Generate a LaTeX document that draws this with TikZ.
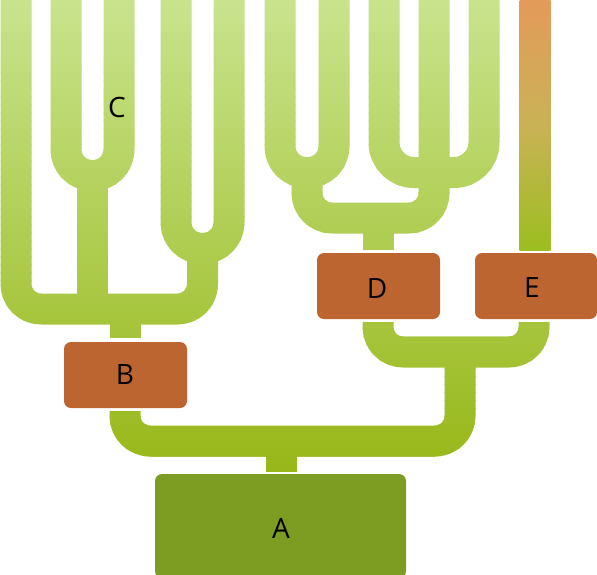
\documentclass[tikz,border=0pt]{standalone}
\usepackage{fontspec}
\setmainfont{Open Sans}
\definecolor{gtop}{HTML}{C8E38C}
\definecolor{gbot}{HTML}{98B81A}
\definecolor{boxor}{HTML}{BC6531}
\definecolor{boxgr}{HTML}{7D9D22}
\definecolor{etop}{HTML}{E49A5A}
\definecolor{emid}{HTML}{C9B256}
\definecolor{ebot}{HTML}{9CBE20}
\tikzset{
  pipe/.style={line width=31pt, line cap=butt, line join=round},
  box/.style={rounded corners=7pt, inner sep=0pt, text=black, font=\fontsize{28}{34}\selectfont},
  lbl/.style={inner sep=0pt, text=black, font=\fontsize{28}{34}\selectfont}
}
\newcommand\greenpipes[1]{%
  % left group
  \draw[pipe,#1,rounded corners=26pt] (66,0)--(66,175.5)--(119,175.5)--(119,0);
  \draw[pipe,#1,rounded corners=26pt] (176,0)--(176,248.5)--(229,248.5)--(229,0);
  \draw[pipe,#1] (92.5,175.5)--(92.5,309);
  \draw[pipe,#1,rounded corners=25pt] (16,0)--(16,309)--(202.5,309)--(202.5,248.5);
  \draw[pipe,#1] (125,309)--(125,338);
  % right group
  \draw[pipe,#1,rounded corners=26pt] (280,0)--(280,172.5)--(334,172.5)--(334,0);
  \draw[pipe,#1,rounded corners=30pt] (384,0)--(384,172.5)--(484,172.5)--(484,0);
  \draw[pipe,#1,rounded corners=25pt] (307,172.5)--(307,218)--(434,218)--(434,0);
  \draw[pipe,#1] (378,218)--(378,250);
  % lower
  \draw[pipe,#1,rounded corners=25pt] (378,322)--(378,352)--(534,352)--(534,322);
  \draw[pipe,#1,rounded corners=25pt] (125,411)--(125,441)--(460,441)--(460,352);
  \draw[pipe,#1] (281,441)--(281,472);
}
\begin{document}
\begin{tikzpicture}[x=1pt,y=-1pt]
\useasboundingbox (0,0) rectangle (597,574);
\foreach \i in {0,...,59}{
  \pgfmathtruncatemacro\p{min(100,round(\i*1.7391))}
  \begin{scope}
    \clip (-5,\i*8) rectangle (605,\i*8+8.6);
    \greenpipes{draw=gbot!\p!gtop}
  \end{scope}
}
% E pipe
\shade[top color=etop, bottom color=ebot, middle color=emid] (519.5,0) rectangle (550.5,250);
% boxes
\node[box, fill=boxgr, minimum width=251pt, minimum height=104pt] (A) at (280.5,526) {};
\node[box, fill=boxor, minimum width=123pt, minimum height=66pt] (B) at (125.5,375) {};
\node[box, fill=boxor, minimum width=123pt, minimum height=66pt] (D) at (378.5,286) {};
\node[box, fill=boxor, minimum width=122pt, minimum height=66pt] (E) at (536,286) {};
\node[lbl] at (281,528) {A};
\node[lbl] at (125,374) {B};
\node[lbl] at (377,288) {D};
\node[lbl] at (532,287) {E};
\node[lbl] (C) at (117,107) {C};
\end{tikzpicture}
\end{document}
